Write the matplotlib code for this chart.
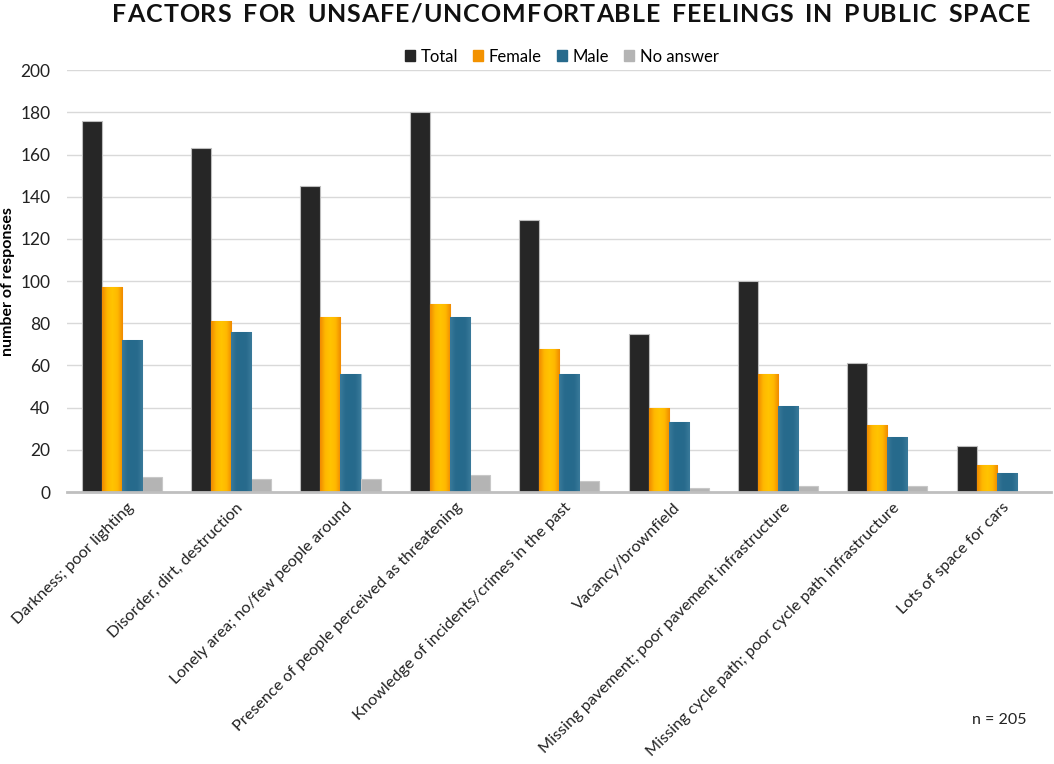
import numpy as np
import matplotlib
matplotlib.use("Agg")
import matplotlib.pyplot as plt
import matplotlib.transforms as mtransforms
from matplotlib.colors import LinearSegmentedColormap

plt.rcParams['font.family'] = ['Lato', 'DejaVu Sans']

categories = [
    "Darkness; poor lighting",
    "Disorder, dirt, destruction",
    "Lonely area; no/few people around",
    "Presence of people perceived as threatening",
    "Knowledge of incidents/crimes in the past",
    "Vacancy/brownfield",
    "Missing pavement; poor pavement infrastructure",
    "Missing cycle path; poor cycle path infrastructure",
    "Lots of space for cars",
]
total = [176, 163, 145, 180, 129, 75, 100, 61, 22]
female = [97, 81, 83, 89, 68, 40, 56, 32, 13]
male = [72, 76, 56, 83, 56, 33, 41, 26, 9]
no_answer = [7, 6, 6, 8, 5, 2, 3, 3, 0]
series_names = ["Total", "Female", "Male", "No answer"]
yticks = [0, 20, 40, 60, 80, 100, 120, 140, 160, 180, 200]
title = "FACTORS FOR UNSAFE/UNCOMFORTABLE FEELINGS IN PUBLIC SPACE"

fig = plt.figure(figsize=(10.54, 7.64), dpi=100)
ax = fig.add_axes([0.0636, 0.356, 0.934, 0.552])

x = np.arange(len(categories))
w = 0.183
offs = np.array([-1.5, -0.5, 0.5, 1.5]) * w
data = [total, female, male, no_answer]
colors = ["#262626", "#F39200", "#276A8C", "#B4B4B4"]
edges = ["#BDBDBD", "#F7B24A", "#9CC2D8", "#C8C8C8"]

bars_all = []
for i, (vals, c, ec) in enumerate(zip(data, colors, edges)):
    b = ax.bar(x + offs[i], vals, width=w, color=c, edgecolor=ec, linewidth=0.8,
               label=series_names[i], zorder=3)
    bars_all.append(b)

cmap_o = LinearSegmentedColormap.from_list("o", ["#F08A00", "#FFB800", "#FFC400", "#FFB800", "#F08A00"])
cmap_b = LinearSegmentedColormap.from_list("b", ["#3A7A9A", "#286B8D", "#266A8C", "#286B8D", "#3A7A9A"])
grad = np.linspace(0, 1, 64).reshape(1, -1)
for b, cm in [(bars_all[1], cmap_o), (bars_all[2], cmap_b)]:
    for p in b.patches:
        x0, y0 = p.get_x(), p.get_y()
        wd, ht = p.get_width(), p.get_height()
        if ht <= 0:
            continue
        im = ax.imshow(grad, cmap=cm, aspect='auto', extent=[x0, x0 + wd, y0, y0 + ht],
                       zorder=3.5, interpolation='bilinear')
        im.set_clip_path(p)

ax.set_xlim(-0.5, len(categories) - 0.5)
ax.set_ylim(0, 200)
ax.set_yticks(yticks)
ax.tick_params(axis='y', length=0, labelsize=12.5, pad=12, colors='#222222')
ax.tick_params(axis='x', length=0, pad=6)
ax.set_xticks(x)
labels = ax.set_xticklabels(categories, rotation=45, ha='right', rotation_mode='anchor',
                            fontsize=11.7, color='#222222')
shift = mtransforms.ScaledTranslation(5 / 100, 0, fig.dpi_scale_trans)
for lab in labels:
    lab.set_transform(lab.get_transform() + shift)
ax.grid(axis='y', color='#D9D9D9', linewidth=1, zorder=0)
for s in ['top', 'right', 'left']:
    ax.spines[s].set_visible(False)
ax.spines['bottom'].set_color('#BFBFBF')
ax.spines['bottom'].set_linewidth(2)
ax.spines['bottom'].set_zorder(4)
ax.set_ylabel("number of responses", fontsize=11.5, fontweight='bold', labelpad=4)

handles = [plt.Rectangle((0, 0), 1, 1, color=c) for c in colors]
fig.legend(handles, series_names, loc='center', bbox_to_anchor=(0.533, 0.926), ncol=4,
           frameon=False, fontsize=12, handlelength=0.6, handleheight=0.6,
           handletextpad=0.35, columnspacing=0.9)

fig.text(0.948, 0.057, "n = 205", ha='center', va='center', fontsize=11.5, color='#222222')

# Title with letter spacing (drawn character by character)
fig.canvas.draw()
renderer = fig.canvas.get_renderer()
fs = 18
target_w = 918.0
widths = []
for ch in title:
    t = fig.text(0, 0, ch if ch != ' ' else 'I', fontsize=fs, fontweight='bold')
    bb = t.get_window_extent(renderer)
    wch = bb.width
    if ch == ' ':
        wch = wch * 1.3
    widths.append(wch)
    t.remove()
spacing = max(0.5, (target_w - sum(widths)) / (len(title) - 1))
total_w = sum(widths) + spacing * (len(title) - 1)
cx = 571.0
xpos = cx - total_w / 2
ypix = (1 - 14 / 764) * fig.bbox.height
for ch, wch in zip(title, widths):
    if ch != ' ':
        fig.text(xpos / fig.bbox.width, ypix / fig.bbox.height, ch, fontsize=fs,
                 fontweight='bold', ha='left', va='center', color='#111111')
    xpos += wch + spacing

fig.savefig("out.png", dpi=100)
